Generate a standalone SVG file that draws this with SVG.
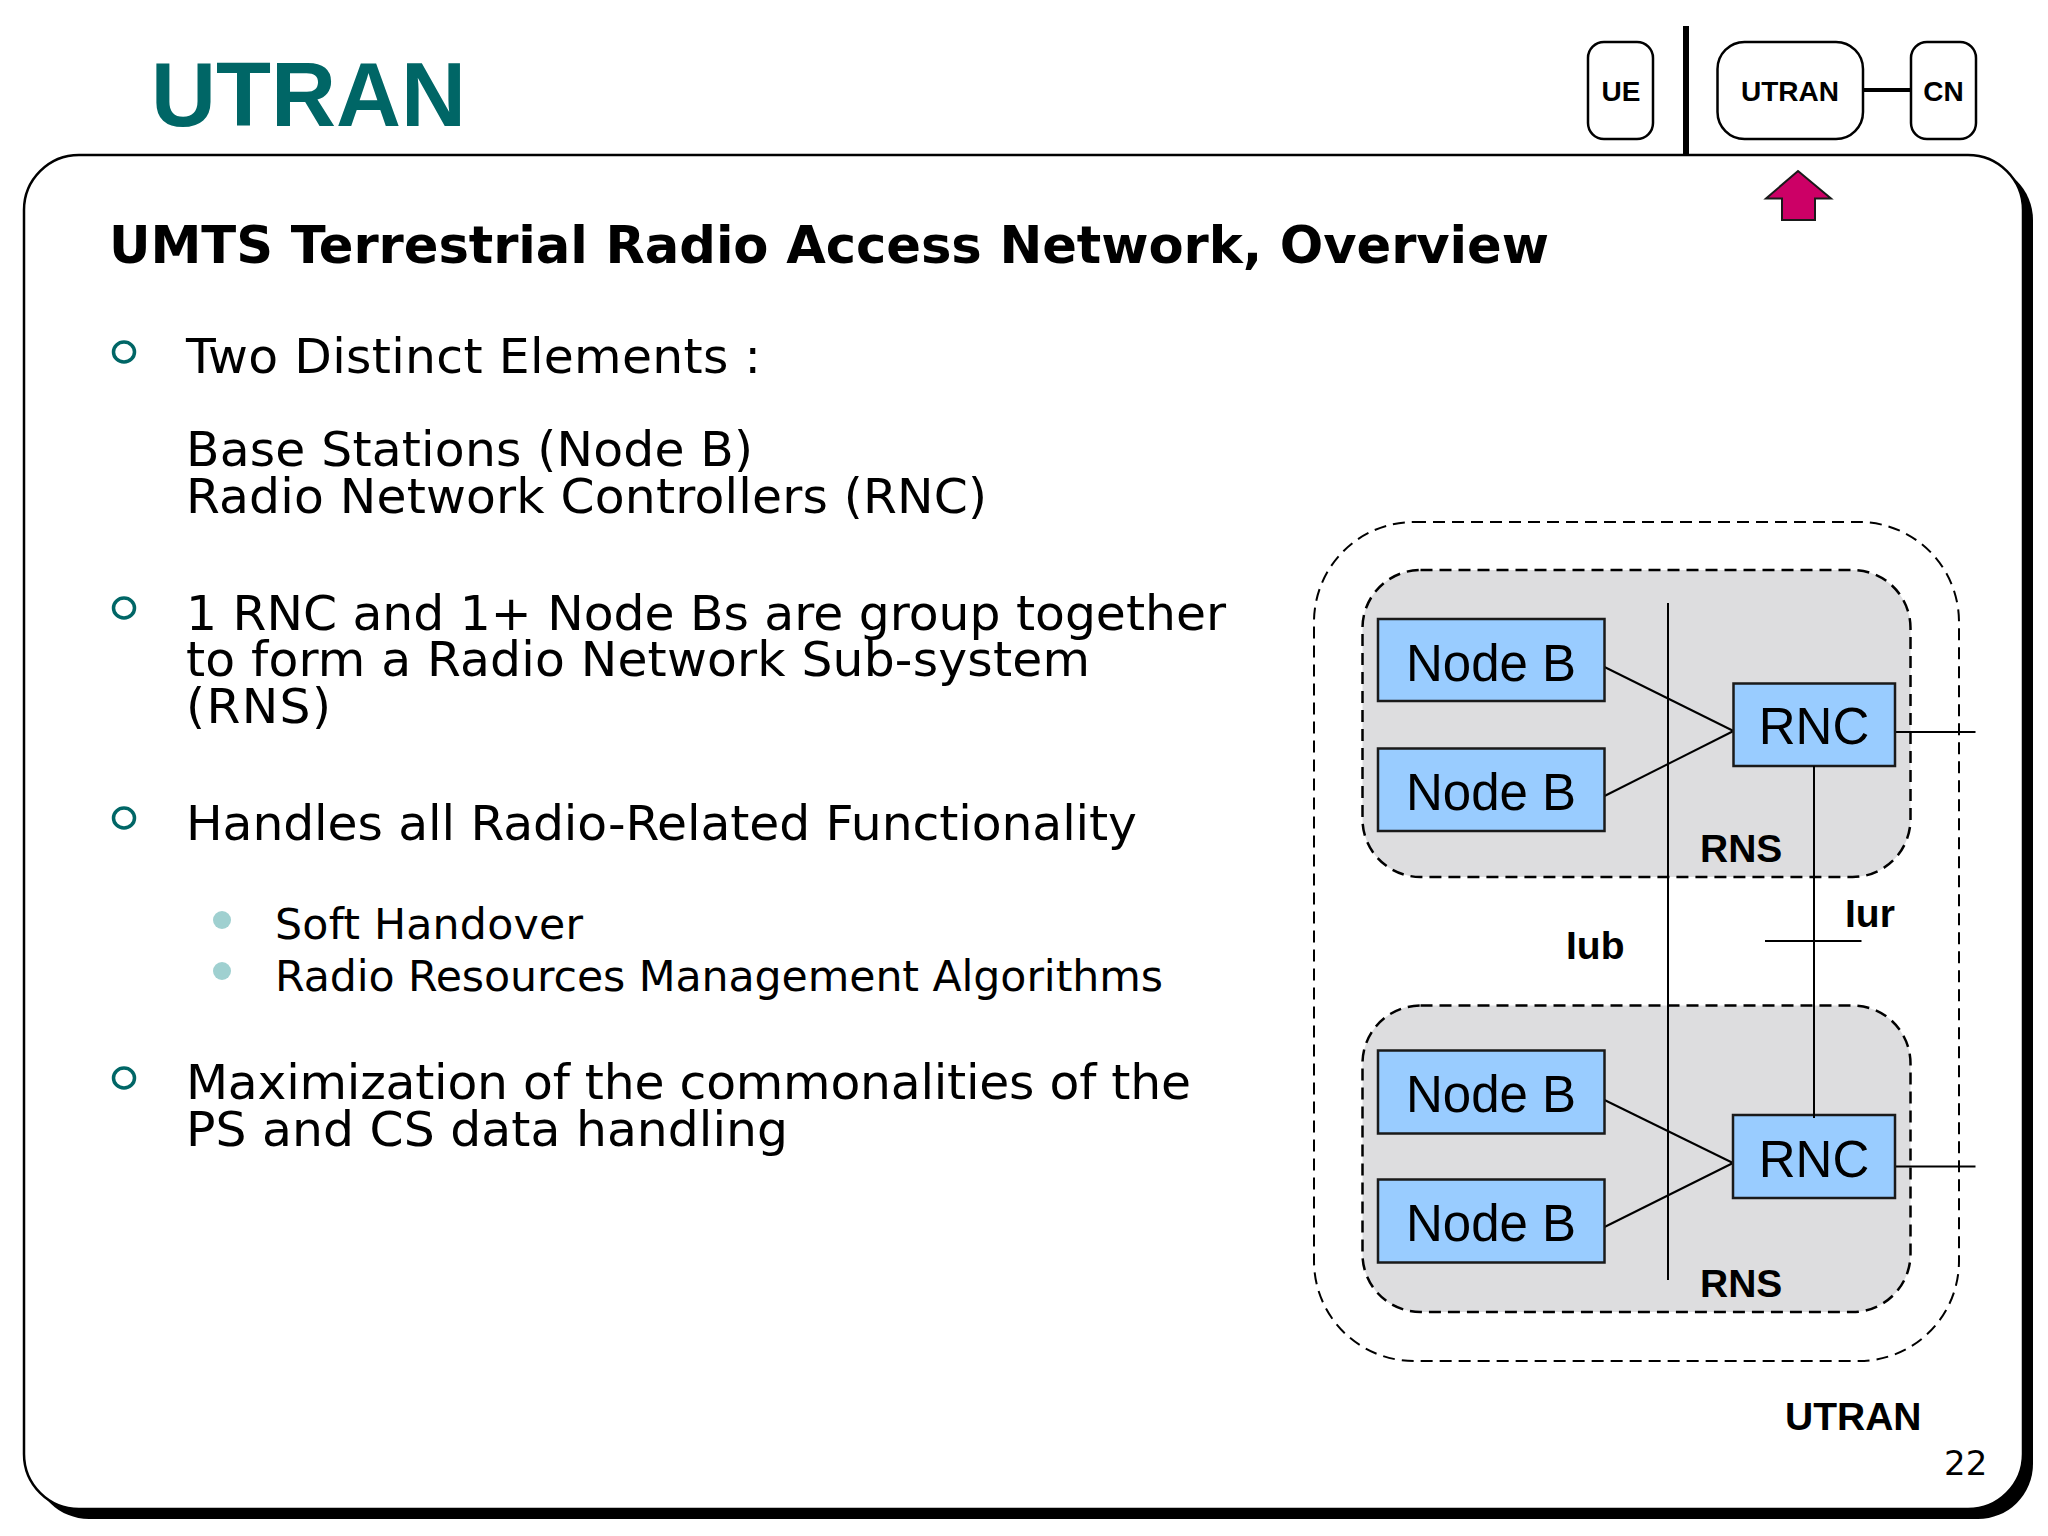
<svg xmlns="http://www.w3.org/2000/svg" width="2048" height="1536" viewBox="0 0 2048 1536">
<style>
.b{font-family:"DejaVu Sans",Verdana,sans-serif;font-size:48.8px;fill:#000}
.s{font-family:"DejaVu Sans",Verdana,sans-serif;font-size:42.7px;fill:#000}
.a{font-family:"Liberation Sans",Arial,sans-serif;fill:#000}
.lb{font-size:39px;font-weight:700}
.mini{font-size:28px;font-weight:700;text-anchor:middle}
.n{font-size:51px;text-anchor:middle}
.box{fill:#99ccff;stroke:#1a1a1a;stroke-width:2.5}
.rns{fill:#dddddf;stroke:#000;stroke-width:2.5;stroke-dasharray:12 7}
.mb{fill:#fff;stroke:#000;stroke-width:2.5}
.ln{stroke:#000;stroke-width:2;fill:none}
.r{fill:none;stroke:#006666;stroke-width:3.5}
.d{fill:#9fd0d0}
</style>
<rect width="2048" height="1536" fill="#fff"/>
<g id="frame">
<rect x="34" y="165" width="1999" height="1354" rx="55" ry="55" fill="#000"/>
<rect x="24" y="155" width="1999" height="1354" rx="55" ry="55" fill="#fff" stroke="#000" stroke-width="2.5"/>
</g>
<g id="nav">
<rect x="1683" y="26" width="6" height="130" fill="#000"/>
<g id="nav-ue"><rect class="mb" x="1588" y="42" width="65" height="97" rx="16"/><text class="a mini" x="1621" y="101">UE</text></g>
<g id="nav-utran"><rect class="mb" x="1717.5" y="42" width="145.5" height="97" rx="27"/><text class="a mini" x="1790" y="101">UTRAN</text></g>
<g id="nav-cn"><rect class="mb" x="1911" y="42" width="65" height="97" rx="16"/><text class="a mini" x="1943.5" y="101">CN</text></g>
<line x1="1863" y1="90" x2="1911" y2="90" stroke="#000" stroke-width="4"/>
<polygon id="nav-arrow" points="1798,171 1831,198.5 1815,198.5 1815,220 1782,220 1782,198.5 1766,198.5" fill="#cc0066" stroke="#1a1a1a" stroke-width="2"/>
</g>
<text id="title" x="151" y="126" style="font-family:'Liberation Sans',Arial,sans-serif;font-size:90px;font-weight:700;fill:#006666">UTRAN</text>
<text id="subtitle" x="109" y="263" textLength="1440" style="font-family:'DejaVu Sans',Verdana,sans-serif;font-size:51.2px;font-weight:700;fill:#000">UMTS Terrestrial Radio Access Network, Overview</text>
<g id="bullets">
<ellipse class="r" cx="124" cy="352" rx="10.5" ry="10"/>
<ellipse class="r" cx="124" cy="608" rx="10.5" ry="10"/>
<ellipse class="r" cx="124" cy="818" rx="10.5" ry="10"/>
<ellipse class="r" cx="124" cy="1078" rx="10.5" ry="10"/>
<circle class="d" cx="222" cy="920" r="9"/>
<circle class="d" cx="222" cy="971" r="9"/>
<text class="b" x="186" y="373" textLength="575">Two Distinct Elements :</text>
<text class="b" x="186" y="466" textLength="567">Base Stations (Node B)</text>
<text class="b" x="186" y="513" textLength="801">Radio Network Controllers (RNC)</text>
<text class="b" x="186" y="630" textLength="1040">1 RNC and 1+ Node Bs are group together</text>
<text class="b" x="186" y="676" textLength="904">to form a Radio Network Sub-system</text>
<text class="b" x="186" y="723" textLength="145">(RNS)</text>
<text class="b" x="186" y="840" textLength="951">Handles all Radio-Related Functionality</text>
<text class="s" x="275" y="939" textLength="308">Soft Handover</text>
<text class="s" x="275" y="991" textLength="888">Radio Resources Management Algorithms</text>
<text class="b" x="186" y="1099" textLength="1005">Maximization of the commonalities of the</text>
<text class="b" x="186" y="1146" textLength="602">PS and CS data handling</text>
</g>
<g id="utran-boundary"><rect x="1314" y="522" width="645" height="839" rx="100" ry="100" fill="none" stroke="#000" stroke-width="2" stroke-dasharray="12 7"/></g>
<g id="rns-top"><rect class="rns" x="1362.5" y="570" width="548" height="307" rx="58"/><text class="a lb" x="1700" y="862">RNS</text></g>
<g id="rns-bottom"><rect class="rns" x="1362.5" y="1005.5" width="548" height="306.5" rx="58"/><text class="a lb" x="1700" y="1297">RNS</text></g>
<g id="connectors">
<line class="ln" x1="1668" y1="603" x2="1668" y2="1280"/>
<line class="ln" x1="1604.5" y1="667" x2="1733.5" y2="731"/>
<line class="ln" x1="1604.5" y1="796" x2="1733.5" y2="731"/>
<line class="ln" x1="1895" y1="732" x2="1975.5" y2="732"/>
<line class="ln" x1="1604.5" y1="1100" x2="1733" y2="1163"/>
<line class="ln" x1="1604.5" y1="1227" x2="1733" y2="1163"/>
<line class="ln" x1="1895" y1="1166.5" x2="1975.5" y2="1166.5"/>
<line class="ln" x1="1765" y1="941" x2="1861.5" y2="941"/>
</g>
<g id="nodeb-1"><rect class="box" x="1378" y="619" width="226.5" height="82"/><text class="a n" x="1491" y="681">Node B</text></g>
<g id="nodeb-2"><rect class="box" x="1378" y="748.5" width="226.5" height="82.5"/><text class="a n" x="1491" y="810">Node B</text></g>
<g id="rnc-1"><rect class="box" x="1733.5" y="683.5" width="161.5" height="82.5"/><text class="a n" x="1814" y="744">RNC</text></g>
<g id="nodeb-3"><rect class="box" x="1378" y="1050.5" width="226.5" height="83"/><text class="a n" x="1491" y="1112">Node B</text></g>
<g id="nodeb-4"><rect class="box" x="1378" y="1179.5" width="226.5" height="83"/><text class="a n" x="1491" y="1241">Node B</text></g>
<g id="rnc-2"><rect class="box" x="1733" y="1115" width="162" height="83"/><text class="a n" x="1814" y="1177">RNC</text></g>
<line id="iur" class="ln" x1="1814" y1="766" x2="1814" y2="1118"/>
<text class="a lb" x="1845" y="927">Iur</text>
<text class="a lb" x="1566" y="959">Iub</text>
<text class="a lb" x="1785" y="1430">UTRAN</text>
<text x="1944" y="1475" style="font-family:'DejaVu Sans',Verdana,sans-serif;font-size:34px;fill:#000">22</text>
</svg>
